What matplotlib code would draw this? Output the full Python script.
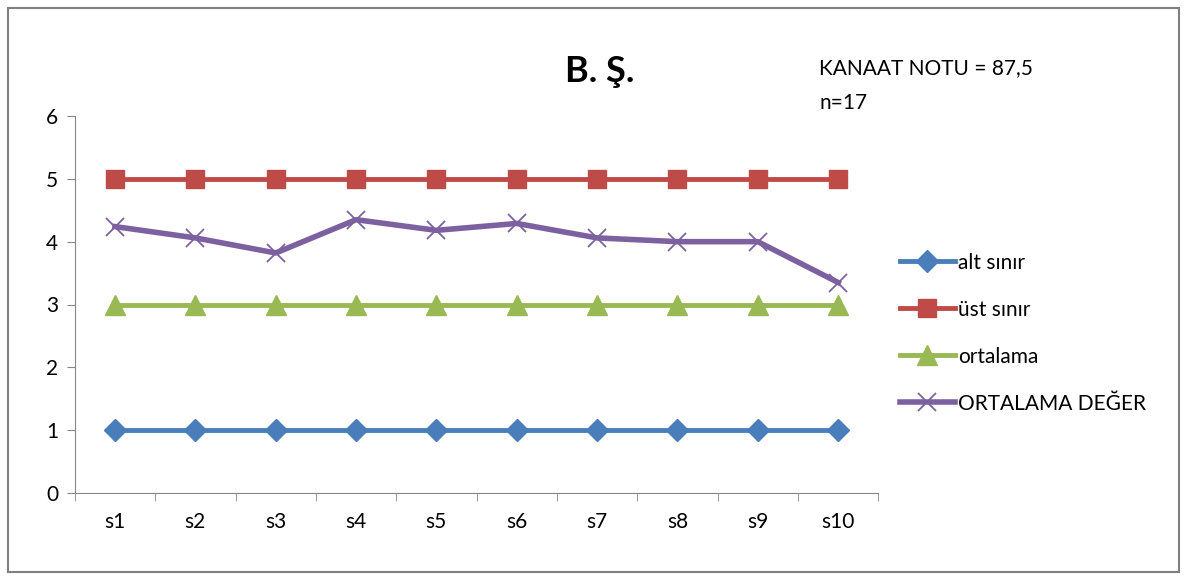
import matplotlib.pyplot as plt
from matplotlib.patches import Rectangle

plt.rcParams['font.family'] = ['Lato', 'DejaVu Sans']

categories = ['s1', 's2', 's3', 's4', 's5', 's6', 's7', 's8', 's9', 's10']
alt_sinir = [1, 1, 1, 1, 1, 1, 1, 1, 1, 1]
ust_sinir = [5, 5, 5, 5, 5, 5, 5, 5, 5, 5]
ortalama = [3, 3, 3, 3, 3, 3, 3, 3, 3, 3]
ortalama_deger = [4.24, 4.06, 3.82, 4.35, 4.18, 4.29, 4.06, 4.0, 4.0, 3.35]
y_ticks = [0, 1, 2, 3, 4, 5, 6]

fig = plt.figure(figsize=(11.87, 5.80), dpi=100)
fig.patches.append(Rectangle((0.007, 0.014), 0.986, 0.972, transform=fig.transFigure,
                             fill=False, edgecolor='#808080', linewidth=1.5))
ax = fig.add_axes([0.063, 0.15, 0.677, 0.65])

x = list(range(len(categories)))
ax.plot(x, alt_sinir, color='#4a7ebb', linewidth=3.5, marker='D', markersize=11, label='alt sınır')
ax.plot(x, ust_sinir, color='#be4b48', linewidth=3.5, marker='s', markersize=13, label='üst sınır')
ax.plot(x, ortalama, color='#98b954', linewidth=3.5, marker='^', markersize=14, label='ortalama')
ax.plot(x, ortalama_deger, color='#7d60a0', linewidth=4, marker='x', markersize=13,
        markeredgewidth=1.3, label='ORTALAMA DEĞER')

ax.set_xlim(-0.5, len(categories) - 0.5)
ax.set_ylim(0, 6)
ax.set_yticks(y_ticks)
ax.set_xticks(x)
ax.set_xticklabels(categories)
ax.set_xticks([i - 0.5 for i in range(len(categories) + 1)], minor=True)
ax.tick_params(axis='x', which='major', length=0, pad=14, labelsize=15)
ax.tick_params(axis='x', which='minor', length=6, color='#868686')
ax.tick_params(axis='y', length=6, color='#868686', labelsize=15, pad=6)
for s in ['top', 'right']:
    ax.spines[s].set_visible(False)
for s in ['left', 'bottom']:
    ax.spines[s].set_color('#868686')

fig.text(0.505, 0.876, 'B. Ş.', fontsize=26, fontweight='bold', ha='center', va='center')
fig.text(0.69, 0.882, 'KANAAT NOTU = 87,5', fontsize=15, ha='left', va='center')
fig.text(0.69, 0.822, 'n=17', fontsize=15, ha='left', va='center')

ax.legend(loc='center left', bbox_to_anchor=(1.017, 0.424), frameon=False, fontsize=15,
          handlelength=2.6, handletextpad=0.15, labelspacing=1.3, borderaxespad=0)

plt.savefig('out.png')
